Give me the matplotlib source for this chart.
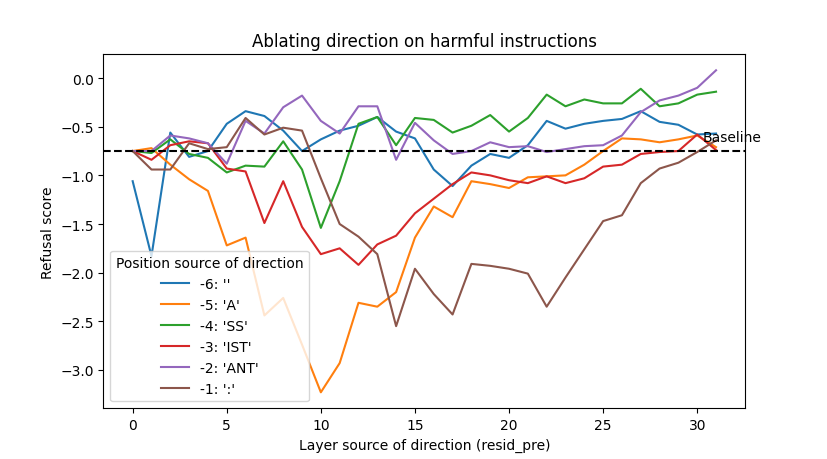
import numpy as np
import matplotlib
matplotlib.use("Agg")
from matplotlib import pyplot as plt

layers = list(range(32))
baseline = -0.75

labels = ["-6: ''", "-5: 'A'", "-4: 'SS'", "-3: 'IST'", "-2: 'ANT'", "-1: ':'"]

score_m6 = [-1.06, -1.83, -0.56, -0.81, -0.75, -0.47, -0.34, -0.39, -0.54, -0.75,
            -0.63, -0.54, -0.49, -0.40, -0.55, -0.62, -0.94, -1.11, -0.90, -0.78,
            -0.82, -0.69, -0.44, -0.52, -0.47, -0.44, -0.42, -0.34, -0.45, -0.48,
            -0.58, -0.57]
score_m5 = [-0.75, -0.72, -0.89, -1.04, -1.16, -1.72, -1.64, -2.44, -2.26, -2.74,
            -3.23, -2.93, -2.31, -2.35, -2.20, -1.64, -1.32, -1.43, -1.06, -1.09,
            -1.13, -1.02, -1.01, -1.00, -0.89, -0.75, -0.62, -0.63, -0.66, -0.63,
            -0.59, -0.71]
score_m4 = [-0.75, -0.77, -0.63, -0.78, -0.82, -0.97, -0.90, -0.91, -0.65, -0.94,
            -1.54, -1.06, -0.47, -0.40, -0.69, -0.41, -0.43, -0.56, -0.49, -0.38,
            -0.55, -0.41, -0.17, -0.29, -0.22, -0.26, -0.26, -0.11, -0.29, -0.26,
            -0.17, -0.14]
score_m3 = [-0.75, -0.84, -0.69, -0.65, -0.67, -0.93, -0.96, -1.49, -1.06, -1.53,
            -1.81, -1.75, -1.92, -1.71, -1.62, -1.39, -1.24, -1.09, -0.97, -1.00,
            -1.05, -1.08, -1.01, -1.08, -1.03, -0.91, -0.89, -0.78, -0.76, -0.75,
            -0.58, -0.74]
score_m2 = [-0.75, -0.75, -0.59, -0.62, -0.67, -0.88, -0.44, -0.57, -0.30, -0.18,
            -0.44, -0.57, -0.29, -0.29, -0.84, -0.46, -0.64, -0.78, -0.75, -0.66,
            -0.71, -0.70, -0.76, -0.73, -0.70, -0.69, -0.59, -0.35, -0.23, -0.18,
            -0.10, 0.08]
score_m1 = [-0.75, -0.94, -0.94, -0.67, -0.73, -0.71, -0.41, -0.58, -0.51, -0.54,
            -1.03, -1.50, -1.63, -1.81, -2.55, -1.96, -2.22, -2.43, -1.91, -1.93,
            -1.96, -2.01, -2.35, -2.05, -1.76, -1.47, -1.41, -1.08, -0.93, -0.87,
            -0.76, -0.64]

scores = [score_m6, score_m5, score_m4, score_m3, score_m2, score_m1]

fig, ax = plt.subplots(figsize=(8.28, 4.6), dpi=100)
for lab, s in zip(labels, scores):
    ax.plot(layers, s, label=lab)

ax.axhline(baseline, color="black", linestyle="--")
ax.text(30.3, baseline + 0.1, "Baseline")

ax.set_title("Ablating direction on harmful instructions")
ax.set_xlabel("Layer source of direction (resid_pre)")
ax.set_ylabel("Refusal score")
ax.legend(title="Position source of direction", loc="lower left")

fig.savefig("out.png")
